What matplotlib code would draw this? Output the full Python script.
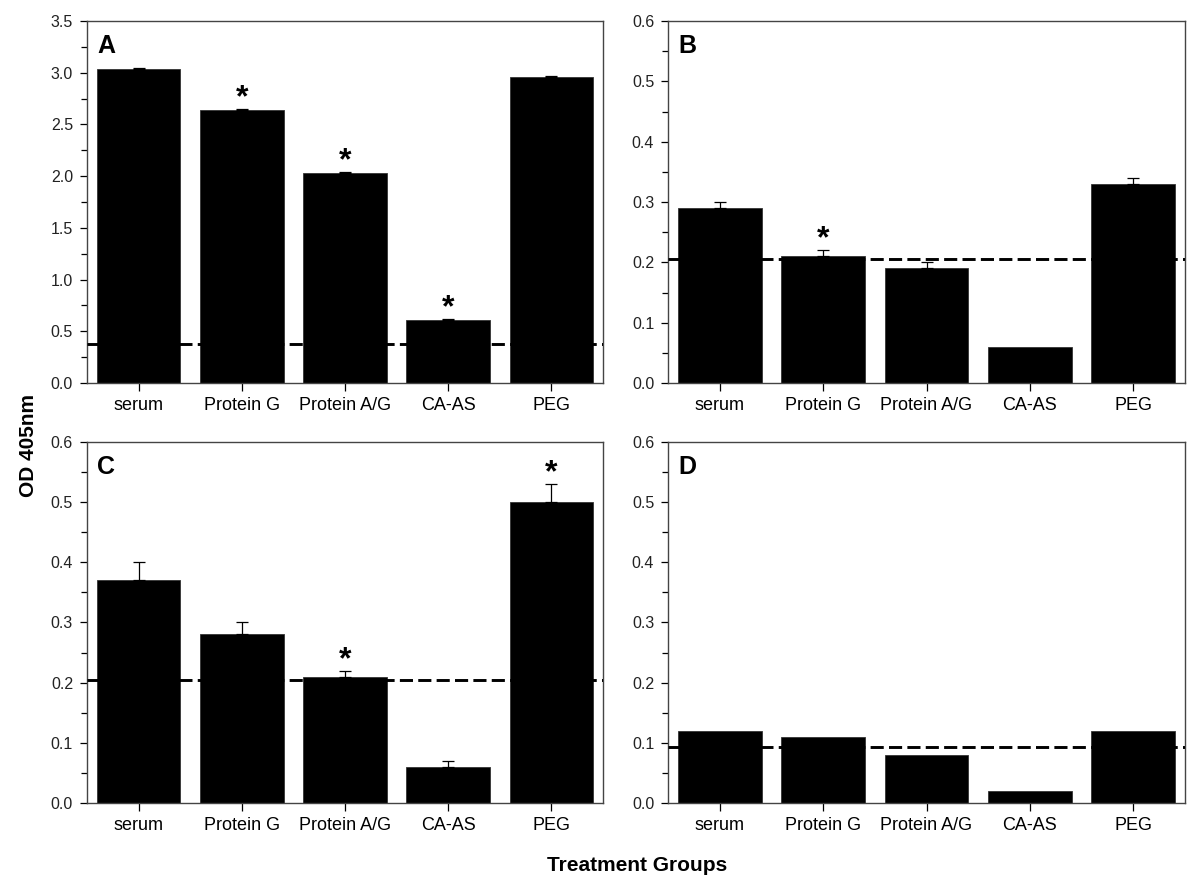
import matplotlib
matplotlib.use('Agg')
import matplotlib.pyplot as plt
from matplotlib.ticker import MultipleLocator

plt.rcParams['font.family'] = ['Liberation Sans', 'DejaVu Sans']

## Data ##
groups = ['serum', 'Protein G', 'Protein A/G', 'CA-AS', 'PEG']

vals_a = [3.04, 2.64, 2.03, 0.61, 2.96]
err_a = [0.01, 0.01, 0.01, 0.01, 0.01]
cut_a = 0.375
star_a = [False, True, True, True, False]

vals_b = [0.29, 0.21, 0.19, 0.06, 0.33]
err_b = [0.01, 0.01, 0.01, 0.0, 0.01]
cut_b = 0.205
star_b = [False, True, False, False, False]

vals_c = [0.37, 0.28, 0.21, 0.06, 0.50]
err_c = [0.03, 0.02, 0.01, 0.01, 0.03]
cut_c = 0.204
star_c = [False, False, True, False, True]

vals_d = [0.12, 0.11, 0.08, 0.02, 0.12]
err_d = [0.0, 0.0, 0.0, 0.0, 0.0]
cut_d = 0.093
star_d = [False, False, False, False, False]

panels = [
    ('A', vals_a, err_a, cut_a, star_a, 3.5, 0.5, 0.25),
    ('B', vals_b, err_b, cut_b, star_b, 0.6, 0.1, 0.05),
    ('C', vals_c, err_c, cut_c, star_c, 0.6, 0.1, 0.05),
    ('D', vals_d, err_d, cut_d, star_d, 0.6, 0.1, 0.05),
]

# axes boxes in figure fraction (left, bottom, width, height)
boxes = [
    [0.0725, 0.5701, 0.430, 0.4063],
    [0.5567, 0.5701, 0.4308, 0.4063],
    [0.0725, 0.0988, 0.430, 0.4052],
    [0.5567, 0.0988, 0.4308, 0.4052],
]

fig = plt.figure(figsize=(12, 8.91), dpi=100)

for (letter, vals, errs, cut, stars, ymax, major, minor), box in zip(panels, boxes):
    ax = fig.add_axes(box)
    x = list(range(len(groups)))
    ax.bar(x, vals, width=0.81, color='black', edgecolor='#333333', linewidth=0.6, zorder=2)
    # one-sided error bars (upwards only)
    has_err = [i for i in x if errs[i] > 0]
    if has_err:
        ax.errorbar([x[i] for i in has_err], [vals[i] for i in has_err],
                    yerr=[[0] * len(has_err), [errs[i] for i in has_err]],
                    fmt='none', ecolor='black', elinewidth=0.9, capsize=4.3,
                    capthick=0.9, zorder=3)
    ax.axhline(cut, color='black', linewidth=2.1, dashes=(4.5, 1.8), zorder=4)

    for i, s in enumerate(stars):
        if s:
            ax.annotate('*', xy=(x[i], vals[i] + errs[i]), xytext=(0, -3),
                        textcoords='offset points', ha='center', va='bottom',
                        fontsize=23, fontweight='bold')

    ax.set_xlim(-0.5, len(groups) - 0.5)
    ax.set_ylim(0, ymax)
    ax.yaxis.set_major_locator(MultipleLocator(major))
    ax.yaxis.set_minor_locator(MultipleLocator(minor))
    ax.yaxis.set_major_formatter(matplotlib.ticker.FormatStrFormatter('%.1f'))
    ax.set_xticks(x)
    ax.set_xticklabels(groups, fontsize=13)
    ax.tick_params(axis='y', which='major', direction='out', length=5, width=0.9,
                   labelsize=11.5, pad=5, labelcolor='#222222')
    ax.tick_params(axis='y', which='minor', direction='out', length=4, width=0.9)
    ax.tick_params(axis='x', direction='out', length=6, width=0.9, pad=4)
    for sp in ax.spines.values():
        sp.set_linewidth(1.0)
        sp.set_color('#444444')

    ax.text(0.02, 0.965, letter, transform=ax.transAxes, ha='left', va='top',
            fontsize=18, fontweight='bold')

fig.text(0.024, 0.5, 'OD 405nm', rotation=90, ha='center', va='center',
         fontsize=15, fontweight='bold')
fig.text(0.531, 0.029, 'Treatment Groups', ha='center', va='center',
         fontsize=15, fontweight='bold')

fig.savefig('out.png', dpi=100)
